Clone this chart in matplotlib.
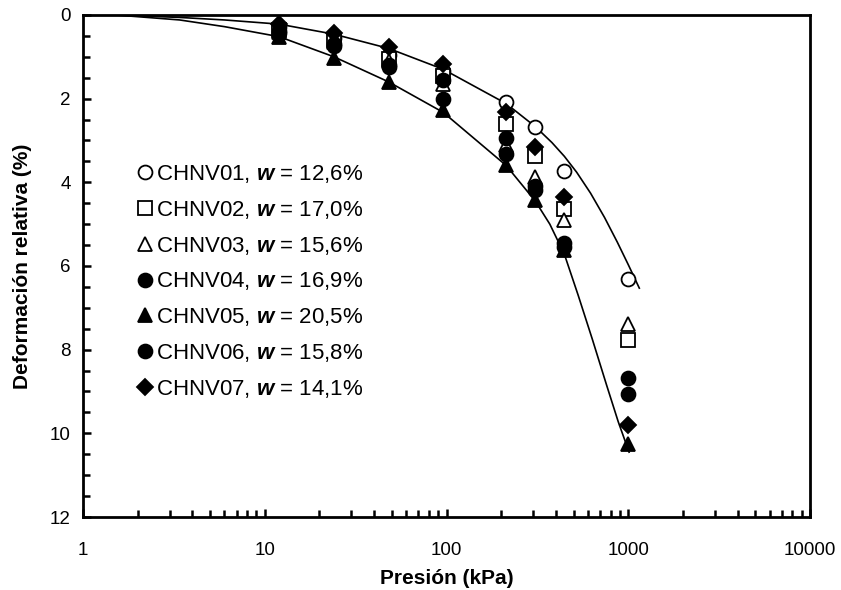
import matplotlib
matplotlib.use("Agg")
import matplotlib.pyplot as plt
from matplotlib.ticker import MultipleLocator, LogLocator, NullFormatter, FixedLocator, FixedFormatter

plt.rcParams['font.family'] = ['Liberation Sans', 'DejaVu Sans']
plt.rcParams['mathtext.fontset'] = 'custom'
plt.rcParams['mathtext.it'] = 'Liberation Sans:bold:italic'
plt.rcParams['mathtext.rm'] = 'Liberation Sans'

# pressure steps (kPa)
presion = [12, 24, 48, 96, 213, 308, 445, 1000]

# relative deformation (%) for each sample
chnv01 = [0.30, 0.55, 0.95, 1.35, 2.07, 2.69, 3.72, 6.30]
chnv02 = [0.35, 0.60, 1.05, 1.45, 2.61, 3.37, 4.65, 7.78]
chnv03 = [0.40, 0.65, 1.10, 1.65, 3.11, 3.88, 4.90, 7.39]
chnv04 = [0.38, 0.70, 1.20, 1.55, 2.93, 4.09, 5.46, 8.67]
chnv05 = [0.52, 1.03, 1.60, 2.28, 3.59, 4.43, 5.62, 10.25]
chnv06 = [0.42, 0.75, 1.25, 2.02, 3.33, 4.19, 5.54, 9.05]
chnv07 = [0.22, 0.42, 0.76, 1.18, 2.31, 3.15, 4.35, 9.81]

labels = ["CHNV01", "CHNV02", "CHNV03", "CHNV04", "CHNV05", "CHNV06", "CHNV07"]
humedad = ["12,6", "17,0", "15,6", "16,9", "20,5", "15,8", "14,1"]

# envelope curves
sup_p = [1.5, 3.4, 6, 12, 24, 48, 96, 213, 308, 380, 445, 520, 620, 740, 870, 1000, 1150]
sup_d = [0.0, 0.06, 0.12, 0.22, 0.46, 0.80, 1.30, 2.12, 2.67, 3.05, 3.38, 3.76, 4.26, 4.84, 5.43, 5.97, 6.53]
inf_p = [1.5, 3.4, 6, 12, 24, 48, 96, 213, 308, 370, 445, 530, 634, 760, 880, 1010]
inf_d = [0.0, 0.12, 0.28, 0.52, 1.0, 1.6, 2.33, 3.6, 4.45, 5.0, 5.72, 6.7, 7.75, 8.85, 9.72, 10.45]

series = [chnv01, chnv02, chnv03, chnv04, chnv05, chnv06, chnv07]
markers = ['o', 's', '^', 'o', '^', 'o', 'D']
filled = [False, False, False, True, True, True, True]
sizes = [10, 10, 10.5, 10, 10.5, 10, 8]

fig = plt.figure(figsize=(8.41, 5.90), dpi=100)
ax = fig.add_axes([0.0987, 0.1237, 0.8645, 0.851])

ax.plot(sup_p, sup_d, color='black', lw=1.2, zorder=2)
ax.plot(inf_p, inf_d, color='black', lw=1.2, zorder=2)

for s, lab, w, m, f, ms in zip(series, labels, humedad, markers, filled, sizes):
    ax.plot(presion, s, linestyle='none', marker=m, markersize=ms,
            markerfacecolor='black' if f else 'white', markeredgecolor='black',
            markeredgewidth=1.3, zorder=3,
            label=lab + r", $\mathit{w}$ = " + w + "%")

ax.set_xscale('log')
ax.set_xlim(1, 10000)
ax.set_ylim(12, 0)
ax.yaxis.set_major_locator(MultipleLocator(2))
ax.yaxis.set_minor_locator(MultipleLocator(0.5))
ax.xaxis.set_major_locator(FixedLocator([1, 10, 100, 1000, 10000]))
ax.xaxis.set_major_formatter(FixedFormatter(["1", "10", "100", "1000", "10000"]))
ax.xaxis.set_minor_locator(LogLocator(base=10, subs=range(2, 10)))
ax.xaxis.set_minor_formatter(NullFormatter())

ax.tick_params(which='both', direction='in', width=1.8, labelsize=13.5,
               top=False, right=False)
ax.tick_params(which='major', length=6)
ax.tick_params(which='minor', length=5)
ax.tick_params(axis='x', pad=18)
ax.tick_params(axis='y', pad=9)

for sp in ax.spines.values():
    sp.set_linewidth(2.0)

ax.set_xlabel("Presión (kPa)", fontsize=15, fontweight='bold', labelpad=7)
ax.set_ylabel("Deformación relativa (%)", fontsize=15, fontweight='bold', labelpad=13)

ax.legend(loc='upper left', bbox_to_anchor=(0.074, 0.705), frameon=False,
          fontsize=16, handlelength=0.7, handletextpad=0.15, labelspacing=0.62,
          borderpad=0, borderaxespad=0)

fig.savefig("out.png", dpi=100)
